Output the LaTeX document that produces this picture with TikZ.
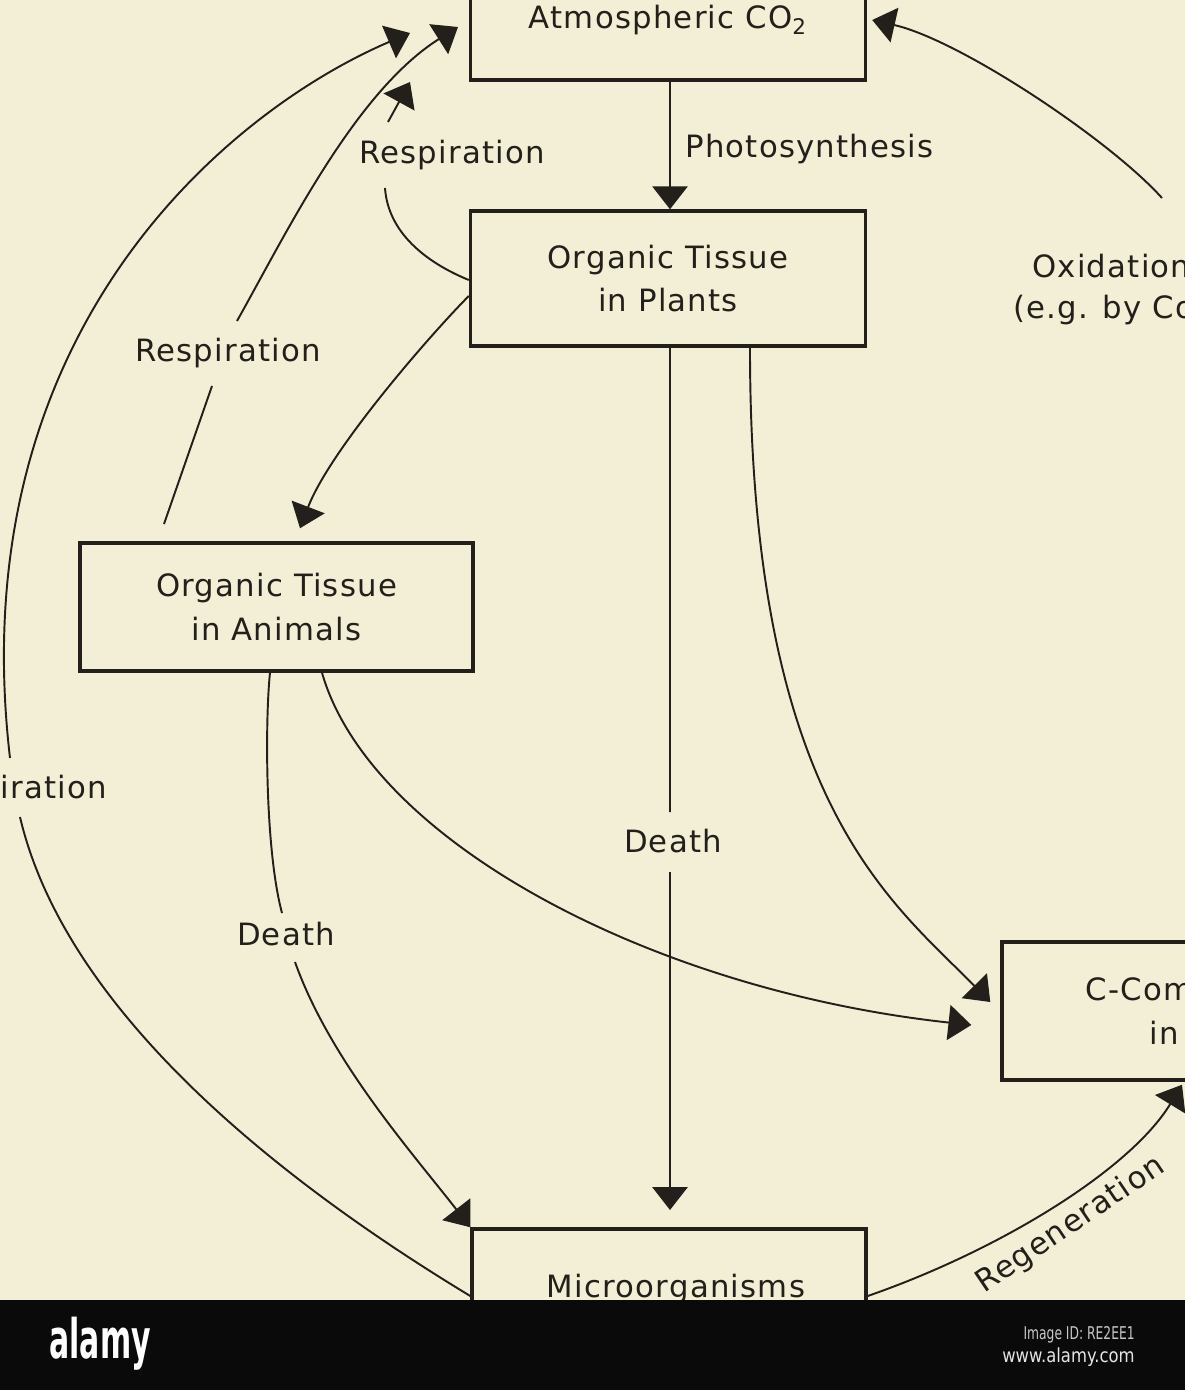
\documentclass[tikz,border=0pt]{standalone}
\usepackage{fontspec}
\usepackage{graphicx}
\setmainfont{DejaVu Sans}[LetterSpace=4]
\newfontfamily\barfont{DejaVu Sans}
\usetikzlibrary{arrows.meta,calc}
\definecolor{paper}{RGB}{243,239,214}
\definecolor{ink}{RGB}{35,31,26}
\newcommand\dgfont{\fontsize{17.5}{25}\selectfont}
\tikzset{
  box/.style={draw=ink, line width=2pt, minimum width=7.9cm, inner sep=0pt, align=center, font=\dgfont, text=ink},
  lbl/.style={inner sep=0pt, anchor=base, font=\dgfont, text=ink},
  conn/.style={draw=ink, line width=1.1pt},
  arr/.style={conn, -{Triangle[length=13pt,width=20pt]}},
}
\begin{document}
\begin{tikzpicture}[x=0.02cm,y=-0.02cm]
\useasboundingbox (0,0) rectangle (1185,1390);
\fill[paper] (0,0) rectangle (1185,1390);
\clip (0,0) rectangle (1185,1390);

% boxes
\node[box, minimum height=2.4cm] (co2) at (668,20) {Atmospheric CO\textsubscript{2}};
\node[box, minimum height=2.7cm] (plants) at (668,278.5) {Organic Tissue\\in Plants};
\node[box, minimum width=7.86cm, minimum height=2.56cm] (animals) at (276.5,607) {Organic Tissue\\in Animals};
\node[box, minimum height=2.76cm] (ccomp) at (1199.5,1011) {C-Compounds\\in Soil};
\node[box, minimum width=7.88cm, minimum height=2.68cm] (micro) at (669,1296) {};
\node[lbl] (microtxt) at (676,1297) {Microorganisms};

% labels
\node[lbl] (resp1) at (452,163) {Respiration};
\node[lbl, anchor=base west] (photo) at (685,157) {Photosynthesis};
\node[lbl] (resp2) at (228,361) {Respiration};
\node[lbl] (resp3) at (14,798) {Respiration};
\node[lbl, anchor=base west] (oxid) at (1032,277) {Oxidation};
\node[lbl, anchor=base west] (oxid2) at (1013,318) {(e.g. by Combustion)};
\node[lbl] (death1) at (673,852) {Death};
\node[lbl] (death2) at (286,945) {Death};
\node[font=\dgfont, text=ink, inner sep=0pt, rotate=34] (regen) at (1071,1225) {Regeneration};

% free ends
\coordinate (tipA) at (410,33);
\coordinate (tipB) at (458,27);
\coordinate (tipC) at (410,82);
\coordinate (r1a) at (385,188);
\coordinate (r1b) at (388,122);
\coordinate (r2a) at (237,321);
\coordinate (r2b) at (212,386);
\coordinate (r2c) at (164,524);
\coordinate (r3a) at (10,758);
\coordinate (r3b) at (20,817);
\coordinate (d1a) at (670,812);
\coordinate (d1b) at (670,872);
\coordinate (d1tip) at (670,1210);
\coordinate (d2a) at (282,913);
\coordinate (d2b) at (295,962);
\coordinate (oxs) at (1162,198);

% photosynthesis
\draw[arr] ([xshift=0.04cm]co2.south) -- ([xshift=0.04cm]plants.north);
% plant respiration
\draw[conn] ([yshift=-0.03cm]plants.west) .. controls (425,262) and (388,232) .. (r1a);
\draw[arr] (r1b) -- (tipC);
% plants eaten by animals
\draw[arr] ([yshift=-0.35cm]plants.west) .. controls (430,335) and (330,450) .. ([xshift=0.47cm,yshift=0.26cm]animals.north);
% animal respiration
\draw[arr] (r2a) .. controls (287,232) and (355,92) .. (tipB);
\draw[conn] (r2b) -- (r2c);
% microorganism respiration
\draw[arr] (r3a) .. controls (-40,330) and (230,110) .. (tipA);
\draw[conn] (micro.west) .. controls (320,1205) and (70,1030) .. (r3b);
% deaths
\draw[conn] ([xshift=0.04cm]plants.south) -- (d1a);
\draw[arr] (d1b) -- (d1tip);
\draw[conn] ([xshift=-0.13cm]animals.south) .. controls (265,720) and (265,850) .. (d2a);
\draw[arr] (d2b) .. controls (330,1060) and (410,1150) .. (micro.north west);
% to C-compounds
\draw[arr] ([xshift=0.91cm]animals.south) .. controls (370,840) and (650,990) .. ([xshift=-0.58cm,yshift=-0.28cm]ccomp.west);
\draw[arr] ([xshift=1.64cm]plants.south) .. controls (750,800) and (890,900) .. ([xshift=-0.2cm,yshift=0.18cm]ccomp.west);
% oxidation
\draw[arr] (oxs) .. controls (1110,140) and (960,40) .. ([xshift=0.1cm]co2.east);
% regeneration
\draw[arr] (micro.east) .. controls (1000,1250) and (1130,1170) .. ([xshift=-0.35cm,yshift=-0.06cm]ccomp.south);

% bottom bar
\fill[black!96] (0,1300) rectangle (1185,1390);
\node[anchor=base west, text=white, inner sep=0pt] (logo) at (49,1358) {\scalebox{0.55}[1]{\barfont\fontsize{31}{31}\selectfont\bfseries alamy}};
\node[anchor=base east, text=black!22, inner sep=0pt] (imgid) at (1135,1339) {\scalebox{0.7}[1]{\barfont\fontsize{10}{10}\selectfont Image ID: RE2EE1}};
\node[anchor=base east, text=black!10, inner sep=0pt] (www) at (1135,1362) {\scalebox{0.85}[1]{\barfont\fontsize{11}{11}\selectfont www.alamy.com}};
\end{tikzpicture}
\end{document}
